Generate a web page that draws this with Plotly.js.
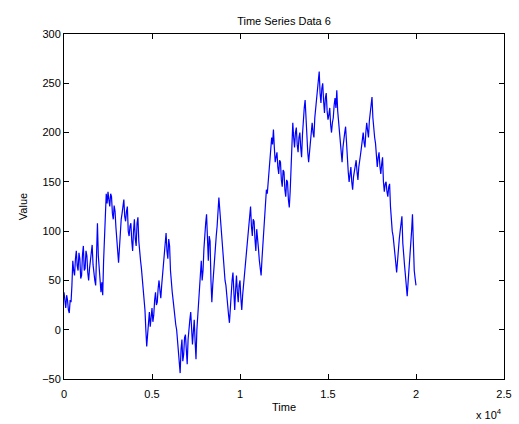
<!DOCTYPE html>
<html>
<head>
<meta charset="utf-8">
<script src="https://cdn.plot.ly/plotly-3.0.1.min.js"></script>
<style>
  html, body { margin: 0; padding: 0; background: #fff; }
  #chart { width: 519px; height: 424px; }
</style>
</head>
<body>
<div id="chart"></div>
<script>
// Sampling interval of the series (time units between samples)
const timeStep = 50;

// Recorded values, one per sample
const values = [
  38, 25, 22, 35, 30, 20, 17, 30, 28, 45,
  70, 60, 55, 72, 80, 65, 60, 78, 72, 52,
  55, 76, 85, 60, 62, 80, 75, 58, 50, 62,
  70, 80, 86, 66, 55, 50, 45, 85, 108, 75,
  60, 45, 38, 48, 35, 70, 90, 120, 138, 128,
  140, 132, 125, 138, 135, 118, 112, 126, 120, 104,
  95, 80, 68, 88, 100, 112, 118, 125, 132, 115,
  110, 120, 125, 100, 95, 105, 108, 90, 80, 100,
  112, 92, 85, 108, 114, 90, 75, 70, 62, 52,
  40, 28, 20, 0, -17, -5, 10, 18, 3, 12,
  22, 8, 15, 30, 38, 25, 28, 42, 50, 40,
  32, 45, 55, 68, 80, 90, 98, 80, 72, 92,
  85, 60, 45, 38, 30, 20, 12, 5, 0, -12,
  -20, -30, -44, -20, -10, -32, -25, -8, -5, -20,
  -35, -10, 5, 10, 18, 0, -15, -2, 10, -12,
  -30, 0, 15, 28, 40, 55, 70, 50, 60, 82,
  100, 108, 117, 85, 70, 95, 90, 50, 28, 45,
  60, 72, 85, 95, 105, 120, 134, 122, 110, 90,
  78, 66, 60, 50, 45, 32, 25, 15, 7, 25,
  40, 50, 58, 35, 20, 40, 55, 38, 28, 45,
  50, 32, 20, 35, 45, 55, 60, 72, 85, 98,
  105, 118, 125, 105, 95, 112, 110, 92, 80, 102,
  95, 82, 70, 60, 55, 72, 85, 100, 110, 128,
  142, 138, 150, 165, 175, 185, 195, 188, 203, 185,
  170, 175, 180, 165, 158, 172, 170, 152, 145, 162,
  160, 142, 135, 152, 150, 132, 124, 140, 165, 190,
  210, 195, 185, 200, 205, 188, 180, 195, 200, 185,
  175, 198, 215, 225, 233, 212, 200, 180, 170, 182,
  190, 205, 210, 200, 195, 215, 225, 232, 240, 250,
  262, 240, 230, 245, 250, 232, 220, 235, 240, 222,
  213, 218, 225, 208, 200, 210, 215, 228, 235, 225,
  243, 222, 210, 198, 190, 178, 170, 185, 195, 200,
  206, 185, 172, 160, 150, 160, 165, 150, 142, 155,
  160, 168, 172, 160, 152, 165, 170, 178, 185, 192,
  200, 190, 185, 200, 210, 202, 195, 212, 220, 230,
  236, 215, 200, 195, 189, 172, 165, 175, 180, 166,
  158, 168, 175, 150, 140, 148, 150, 140, 135, 145,
  148, 125, 110, 100, 95, 88, 80, 68, 58, 72,
  85, 92, 100, 108, 115, 88, 70, 65, 55, 45,
  34, 48, 60, 72, 80, 100, 117, 85, 60, 52,
  45
];

const times = values.map((_, i) => i * timeStep);

// Axis ticks (time shown in units of 10^4)
const xTickVals = [0, 5000, 10000, 15000, 20000, 25000];
const xTickText = ['0', '0.5', '1', '1.5', '2', '2.5'];
const yTickVals = [-50, 0, 50, 100, 150, 200, 250, 300];

const font = { family: 'Liberation Sans, Arial, Helvetica, sans-serif', size: 11, color: '#000' };

const trace = {
  x: times,
  y: values,
  type: 'scatter',
  mode: 'lines',
  line: { color: '#0000ff', width: 1.2 },
  hoverinfo: 'skip'
};

const axisCommon = {
  showline: true,
  linecolor: '#000',
  linewidth: 1,
  mirror: 'ticks',
  ticks: 'inside',
  ticklen: 5,
  tickcolor: '#000',
  showgrid: false,
  zeroline: false,
  tickfont: font
};

const layout = {
  width: 519,
  height: 424,
  margin: { l: 64, r: 15, t: 34, b: 45 },
  paper_bgcolor: '#fff',
  plot_bgcolor: '#fff',
  showlegend: false,
  font: font,
  title: {
    text: 'Time Series Data 6',
    font: font,
    x: 0.5,
    xref: 'paper',
    y: 1,
    yref: 'paper',
    yanchor: 'bottom',
    pad: { b: 9 }
  },
  xaxis: Object.assign({}, axisCommon, {
    range: [0, 25000],
    tickvals: xTickVals,
    ticktext: xTickText,
    ticklabelstandoff: 5,
    title: { text: 'Time', font: font, standoff: 4 }
  }),
  yaxis: Object.assign({}, axisCommon, {
    range: [-50, 300],
    tickvals: yTickVals,
    title: { text: 'Value', font: font, standoff: 12 }
  }),
  annotations: [{
    text: 'x 10<sup>4</sup>',
    xref: 'paper', yref: 'paper',
    x: 1, y: 0,
    xanchor: 'right', yanchor: 'top',
    yshift: -26,
    showarrow: false,
    font: font
  }]
};

Plotly.newPlot('chart', [trace], layout, { displayModeBar: false, staticPlot: true });
</script>
</body>
</html>
